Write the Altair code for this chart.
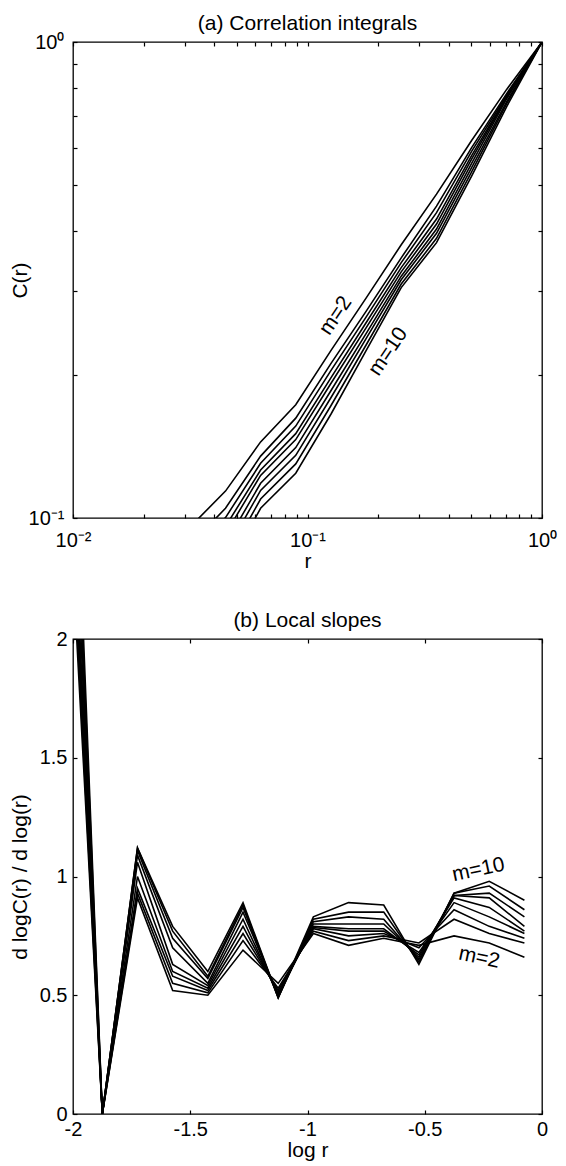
import altair as alt
import pandas as pd

FONT = "Liberation Sans"

M_LIST = [2, 3, 4, 5, 6, 7, 8, 9, 10]

# ---------------- (a) Correlation integrals ----------------
R_VALUES = [0.0316, 0.0447, 0.0631, 0.0891, 0.126, 0.178, 0.251, 0.355, 0.501, 0.708, 1.0]
C_M2 = [0.0958, 0.1139, 0.1445, 0.1730, 0.2250, 0.2900, 0.3750, 0.4790, 0.6210, 0.7960, 1.0]
C_M3 = [0.0879, 0.1048, 0.1349, 0.1621, 0.2113, 0.2720, 0.3520, 0.4520, 0.6000, 0.7800, 1.0]
C_M4 = [0.0838, 0.1002, 0.1303, 0.1560, 0.2042, 0.2646, 0.3440, 0.4380, 0.5890, 0.7740, 1.0]
C_M5 = [0.0800, 0.0960, 0.1261, 0.1504, 0.1972, 0.2574, 0.3357, 0.4246, 0.5774, 0.7690, 1.0]
C_M6 = [0.0768, 0.0926, 0.1229, 0.1461, 0.1919, 0.2512, 0.3289, 0.4145, 0.5676, 0.7660, 1.0]
C_M7 = [0.0729, 0.0882, 0.1183, 0.1406, 0.1853, 0.2443, 0.3221, 0.4046, 0.5559, 0.7610, 1.0]
C_M8 = [0.0695, 0.0847, 0.1143, 0.1354, 0.1791, 0.2385, 0.3166, 0.3963, 0.5445, 0.7505, 1.0]
C_M9 = [0.0662, 0.0809, 0.1096, 0.1299, 0.1723, 0.2312, 0.3101, 0.3868, 0.5333, 0.7430, 1.0]
C_M10 = [0.0627, 0.0771, 0.1048, 0.1242, 0.1654, 0.2249, 0.3048, 0.3789, 0.5224, 0.7328, 1.0]
C_SERIES = [C_M2, C_M3, C_M4, C_M5, C_M6, C_M7, C_M8, C_M9, C_M10]

A_X_MAJOR = [0.01, 0.1, 1.0]
A_X_MAJOR_LABELS = ["10\u207b\u00b2", "10\u207b\u00b9", "10\u2070"]
A_X_MINOR = [0.02, 0.03, 0.04, 0.05, 0.06, 0.07, 0.08, 0.09,
             0.2, 0.3, 0.4, 0.5, 0.6, 0.7, 0.8, 0.9]
A_Y_MAJOR = [0.1, 1.0]
A_Y_MAJOR_LABELS = ["10\u207b\u00b9", "10\u2070"]
A_Y_MINOR = [0.2, 0.3, 0.4, 0.5, 0.6, 0.7, 0.8, 0.9]

A_LABEL_TEXT = ["m=2", "m=10"]
A_LABEL_R = [0.132, 0.221]
A_LABEL_C = [0.266, 0.2236]

# ---------------- (b) Local slopes ----------------
LOGR_MID = [-2.025, -1.875, -1.725, -1.575, -1.425, -1.275, -1.125,
            -0.975, -0.825, -0.675, -0.525, -0.375, -0.225, -0.075]
S_M2 = [2.75, 0.0, 0.91, 0.52, 0.50, 0.69, 0.55, 0.76, 0.71, 0.74, 0.71, 0.75, 0.72, 0.66]
S_M3 = [2.85, 0.0, 0.93, 0.55, 0.51, 0.73, 0.53, 0.77, 0.73, 0.75, 0.72, 0.82, 0.76, 0.72]
S_M4 = [2.95, 0.0, 0.95, 0.58, 0.52, 0.76, 0.52, 0.78, 0.75, 0.76, 0.70, 0.86, 0.79, 0.74]
S_M5 = [3.05, 0.0, 1.00, 0.60, 0.53, 0.79, 0.51, 0.785, 0.77, 0.77, 0.68, 0.89, 0.83, 0.76]
S_M6 = [3.15, 0.0, 1.06, 0.63, 0.54, 0.82, 0.50, 0.79, 0.78, 0.78, 0.67, 0.91, 0.87, 0.77]
S_M7 = [3.30, 0.0, 1.09, 0.70, 0.55, 0.85, 0.50, 0.80, 0.80, 0.80, 0.66, 0.92, 0.91, 0.79]
S_M8 = [3.45, 0.0, 1.11, 0.74, 0.57, 0.87, 0.49, 0.81, 0.83, 0.82, 0.65, 0.92, 0.93, 0.83]
S_M9 = [3.60, 0.0, 1.12, 0.77, 0.58, 0.88, 0.49, 0.82, 0.85, 0.85, 0.64, 0.93, 0.96, 0.86]
S_M10 = [3.75, 0.0, 1.12, 0.79, 0.60, 0.89, 0.49, 0.83, 0.89, 0.88, 0.63, 0.93, 0.98, 0.90]
S_SERIES = [S_M2, S_M3, S_M4, S_M5, S_M6, S_M7, S_M8, S_M9, S_M10]

B_X_TICKS = [-2, -1.5, -1, -0.5, 0]
B_Y_TICKS = [0, 0.5, 1, 1.5, 2]

B_LABEL_TEXT = ["m=10", "m=2"]
B_LABEL_X = [-0.271, -0.268]
B_LABEL_Y = [1.028, 0.658]
B_LABEL_ANGLE = [348, 12]

# ---------------- build tables ----------------
rows_a = []
for m, cs in zip(M_LIST, C_SERIES):
    for r, c in zip(R_VALUES, cs):
        rows_a.append({"m": m, "r": r, "C": c})
df_a = pd.DataFrame(rows_a)

rows_b = []
for m, ss in zip(M_LIST, S_SERIES):
    for x, s in zip(LOGR_MID, ss):
        rows_b.append({"m": m, "logr": x, "slope": s})
df_b = pd.DataFrame(rows_b)


def label_expr(values, labels):
    expr = "''"
    for v, lab in reversed(list(zip(values, labels))):
        expr = f"abs(datum.value - {v}) < {v * 0.01} ? '{lab}' : " + expr
    return expr


W = 469
TICK = 4


def panel(df, xf, yf, xscale, yscale, x_major, y_major, x_all, y_all,
          x_lab_expr, y_lab_expr, x_title, y_title, xlab_pad, ylab_pad, xtitle_pad):
    base = alt.Chart(df)
    lines = base.mark_line(color="black", strokeWidth=1.6, clip=True).encode(
        x=alt.X(f"{xf}:Q", scale=xscale,
                axis=alt.Axis(orient="bottom", values=x_major, labelExpr=x_lab_expr,
                              ticks=False, domain=False, grid=False, labelFlush=False,
                              labelPadding=xlab_pad, title=x_title,
                              titlePadding=xtitle_pad)),
        y=alt.Y(f"{yf}:Q", scale=yscale,
                axis=alt.Axis(orient="left", values=y_major, labelExpr=y_lab_expr,
                              ticks=False, domain=False, grid=False, labelFlush=False,
                              labelPadding=ylab_pad, title=y_title, titleX=-43)),
        order=alt.Order(f"{xf}:Q"),
        detail="m:N",
    )
    inner1 = base.mark_line(strokeOpacity=0, clip=True).encode(
        x=alt.X(f"{xf}:Q", scale=xscale,
                axis=alt.Axis(orient="bottom", values=x_all, labels=False, domain=False,
                              grid=False, tickSize=TICK, offset=-TICK, tickColor="black",
                              tickWidth=1.2, title=None)),
        y=alt.Y(f"{yf}:Q", scale=yscale,
                axis=alt.Axis(orient="left", values=y_all, labels=False, domain=False,
                              grid=False, tickSize=TICK, offset=-TICK, tickColor="black",
                              tickWidth=1.2, title=None)),
        detail="m:N",
    )
    inner2 = base.mark_line(strokeOpacity=0, clip=True).encode(
        x=alt.X(f"{xf}:Q", scale=xscale,
                axis=alt.Axis(orient="top", values=x_all, labels=False, domain=False,
                              grid=False, tickSize=TICK, offset=-TICK, tickColor="black",
                              tickWidth=1.2, title=None)),
        y=alt.Y(f"{yf}:Q", scale=yscale,
                axis=alt.Axis(orient="right", values=y_all, labels=False, domain=False,
                              grid=False, tickSize=TICK, offset=-TICK, tickColor="black",
                              tickWidth=1.2, title=None)),
        detail="m:N",
    )
    return lines, inner1, inner2


xs_a = alt.Scale(type="log", domain=[0.01, 1.0], nice=False)
ys_a = alt.Scale(type="log", domain=[0.1, 1.0], nice=False)
la, ia1, ia2 = panel(df_a, "r", "C", xs_a, ys_a, A_X_MAJOR, A_Y_MAJOR,
                     A_X_MAJOR + A_X_MINOR, A_Y_MAJOR + A_Y_MINOR,
                     label_expr(A_X_MAJOR, A_X_MAJOR_LABELS),
                     label_expr(A_Y_MAJOR, A_Y_MAJOR_LABELS),
                     "r", "C(r)", 12, 9, 0)

df_lab_a = pd.DataFrame({"text": A_LABEL_TEXT, "r": A_LABEL_R, "C": A_LABEL_C})
text_a = alt.Chart(df_lab_a).mark_text(font=FONT, fontSize=21, angle=304,
                                       color="black").encode(
    x=alt.X("r:Q", scale=xs_a, axis=None),
    y=alt.Y("C:Q", scale=ys_a, axis=None),
    text="text:N",
)

top = alt.layer(la, ia1, ia2, text_a).resolve_axis(
    x="independent", y="independent").properties(
    width=W, height=476,
    title=alt.Title("(a) Correlation integrals", offset=-2))

xs_b = alt.Scale(domain=[-2, 0], nice=False)
ys_b = alt.Scale(domain=[0, 2], nice=False)
plain = "'' + datum.value"
lb, ib1, ib2 = panel(df_b, "logr", "slope", xs_b, ys_b, B_X_TICKS, B_Y_TICKS,
                     B_X_TICKS, B_Y_TICKS, plain, plain,
                     "log r", "d logC(r) / d log(r)", 5, 6, 0)

text_b_layers = []
for t, x, y, a in zip(B_LABEL_TEXT, B_LABEL_X, B_LABEL_Y, B_LABEL_ANGLE):
    d = pd.DataFrame({"text": [t], "logr": [x], "slope": [y]})
    text_b_layers.append(
        alt.Chart(d).mark_text(font=FONT, fontSize=21, angle=a, color="black").encode(
            x=alt.X("logr:Q", scale=xs_b, axis=None),
            y=alt.Y("slope:Q", scale=ys_b, axis=None),
            text="text:N",
        ))

bottom = alt.layer(lb, ib1, ib2, *text_b_layers).resolve_axis(
    x="independent", y="independent").properties(
    width=W, height=475,
    title=alt.Title("(b) Local slopes", offset=-2))

chart = alt.vconcat(top, bottom, spacing=37).resolve_scale(
    x="independent", y="independent").properties(
    padding={"left": 0, "top": 4, "right": 0, "bottom": 0}
).configure_view(stroke="black", strokeWidth=1.3).configure_axis(
    labelFont=FONT, titleFont=FONT, labelFontSize=20, titleFontSize=21,
    labelColor="black", titleColor="black", titleFontWeight="normal",
    labelFontWeight="normal", labelOverlap=False
).configure_title(font=FONT, fontSize=21, fontWeight="normal", color="black",
                  anchor="middle")

chart.save("out.html", embed_options={"renderer": "svg", "actions": False})
